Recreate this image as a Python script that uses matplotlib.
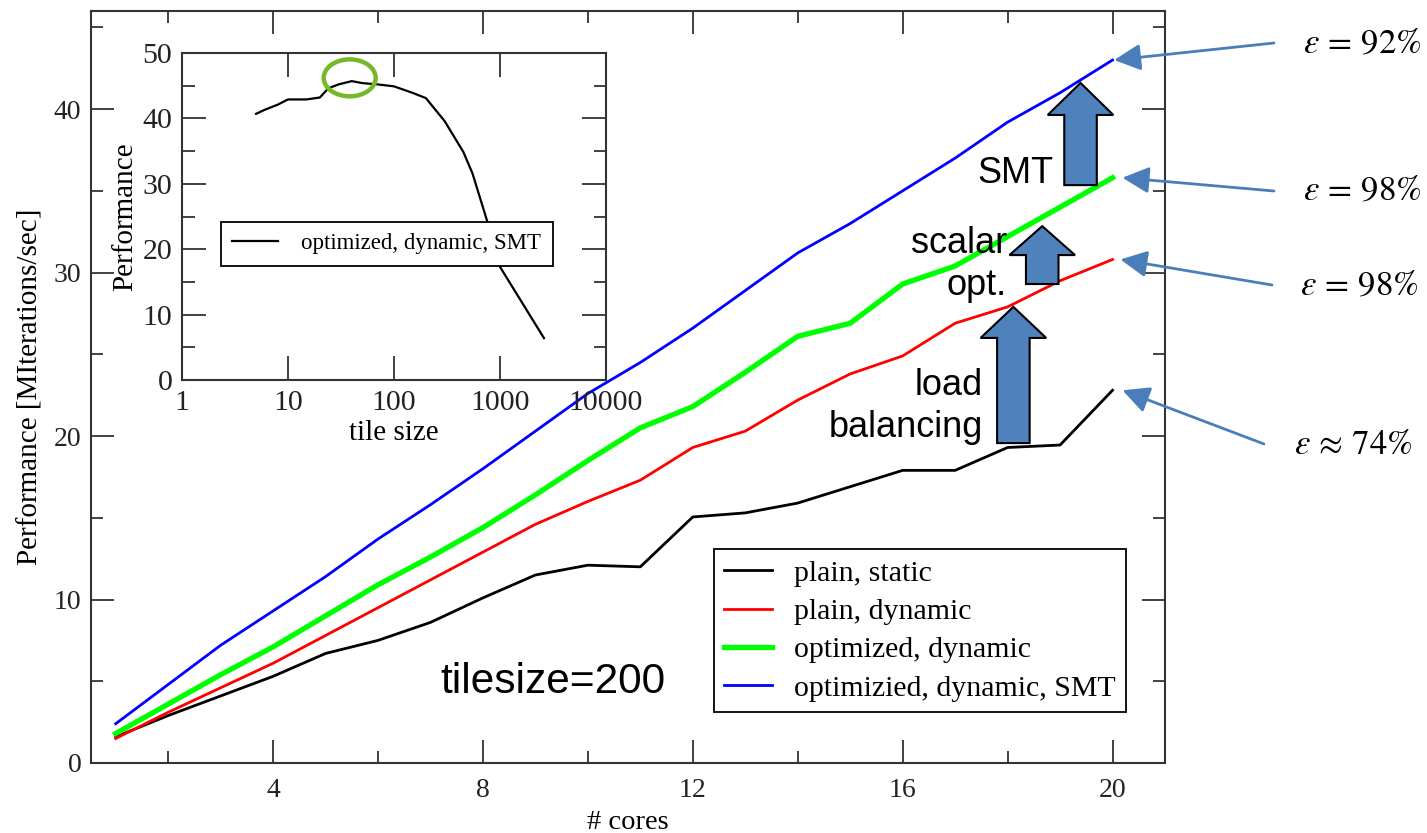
import matplotlib
matplotlib.use("Agg")
import matplotlib.pyplot as plt
from matplotlib.patches import FancyArrow, Ellipse
from matplotlib.ticker import MultipleLocator, LogLocator, NullFormatter

plt.rcParams["font.family"] = ["Liberation Serif", "DejaVu Serif"]
plt.rcParams["mathtext.fontset"] = "stix"

# ── data ─────────────────────────────────────────────────────────────────
cores = list(range(1, 21))
plain_static = [1.6, 2.9, 4.1, 5.3, 6.7, 7.5, 8.6, 10.1, 11.5, 12.1,
                12.0, 15.05, 15.3, 15.9, 16.9, 17.9, 17.9, 19.3, 19.45, 22.8]
plain_dynamic = [1.5, 3.1, 4.6, 6.1, 7.8, 9.5, 11.2, 12.9, 14.6, 16.0,
                 17.3, 19.3, 20.3, 22.2, 23.8, 24.9, 26.9, 27.9, 29.5, 30.8]
opt_dynamic = [1.8, 3.6, 5.4, 7.1, 9.0, 10.9, 12.6, 14.4, 16.4, 18.5,
               20.5, 21.8, 23.9, 26.1, 26.9, 29.3, 30.4, 32.2, 34.0, 35.8]
opt_dynamic_smt = [2.4, 4.8, 7.2, 9.3, 11.4, 13.7, 15.8, 18.0, 20.3, 22.6,
                   24.5, 26.6, 28.9, 31.2, 33.0, 35.0, 37.0, 39.2, 41.0, 43.0]

tile_sizes = [5, 6, 8, 10, 15, 20, 24, 30, 40, 50, 70, 100, 150, 200,
              300, 450, 550, 750, 1000, 2600]
tile_perf = [40.7, 41.3, 42.1, 42.9, 42.9, 43.2, 44.6, 45.2, 45.7, 45.4,
             45.2, 44.9, 43.9, 43.1, 39.6, 34.9, 31.6, 24.5, 17.3, 6.4]

efficiency_labels = [r"$\varepsilon\,=\,92\%$", r"$\varepsilon\,=\,98\%$",
                     r"$\varepsilon\,=\,98\%$", r"$\varepsilon\,\approx\,74\%$"]

W, H = 1427, 833
SPINE = "#333333"
ARROW_BLUE = "#4a7ebb"
BLOCK_BLUE = "#4f81bd"


def fx(px):
    return px / W


def fy(py):
    return 1 - py / H


def style_axes(ax, maj, mino, labelsize):
    for s in ax.spines.values():
        s.set_color(SPINE)
        s.set_linewidth(1.5)
    ax.tick_params(which="both", direction="in", top=True, right=True,
                   color=SPINE, width=1.3, labelcolor="#222222")
    ax.tick_params(which="major", length=maj, labelsize=labelsize)
    ax.tick_params(which="minor", length=mino)


fig = plt.figure(figsize=(W / 100, H / 100), dpi=100)

# ── main axes ────────────────────────────────────────────────────────────
ax = fig.add_axes([fx(91), fy(763), (1165 - 91) / W, (763 - 11) / H])
ax.plot(cores, plain_static, color="black", lw=2.0, label="plain, static")
ax.plot(cores, plain_dynamic, color="#ff0000", lw=2.0, label="plain, dynamic")
ax.plot(cores, opt_dynamic, color="#00ff00", lw=3.8, label="optimized, dynamic")
ax.plot(cores, opt_dynamic_smt, color="#0000ff", lw=2.0,
        label="optimizied, dynamic, SMT")
ax.set_xlim(0.53, 21.0)
ax.set_ylim(0, 46)
ax.xaxis.set_major_locator(MultipleLocator(4))
ax.xaxis.set_minor_locator(MultipleLocator(2))
ax.yaxis.set_major_locator(MultipleLocator(10))
ax.yaxis.set_minor_locator(MultipleLocator(5))
style_axes(ax, 16.5, 8.5, 20)
ax.tick_params(axis="x", pad=11)
ax.tick_params(axis="y", pad=7)
ax.set_xlabel("# cores", fontsize=20.5, labelpad=5)
ax.set_ylabel("Performance [MIterations/sec]", fontsize=21, labelpad=7)

leg = ax.legend(loc="lower right", bbox_to_anchor=(0.9637, 0.0678),
                borderaxespad=0, fontsize=21.5, handlelength=1.6,
                handletextpad=0.74, borderpad=0.35, labelspacing=0.38,
                fancybox=False, framealpha=1, edgecolor="black")
leg.get_frame().set_linewidth(1.3)

# block arrows (x centre, bottom, top, head length) in data units
block_arrows = [(18.11, 19.57, 27.9, 1.9), (18.66, 29.3, 32.84, 1.77),
                (19.39, 35.35, 41.6, 1.96)]
for xc, y0, y1, hl in block_arrows:
    ax.add_patch(FancyArrow(xc, y0, 0, y1 - y0, width=0.62, head_width=1.25,
                            head_length=hl, length_includes_head=True,
                            fc=BLOCK_BLUE, ec="black", lw=1.5, zorder=5))

sans = ["Liberation Sans", "DejaVu Sans"]
fig.text(fx(440), fy(693), "tilesize=200", family=sans, fontsize=30.5,
         va="baseline", ha="left")
fig.text(fx(1054), fy(183), "SMT", family=sans, fontsize=26,
         va="baseline", ha="right")
fig.text(fx(1007), fy(253), "scalar", family=sans, fontsize=26,
         va="baseline", ha="right")
fig.text(fx(1007), fy(295), "opt.", family=sans, fontsize=26,
         va="baseline", ha="right")
fig.text(fx(983), fy(395), "load", family=sans, fontsize=26,
         va="baseline", ha="right")
fig.text(fx(983), fy(437), "balancing", family=sans, fontsize=26,
         va="baseline", ha="right")

# efficiency call-outs
ends = [opt_dynamic_smt[-1], opt_dynamic[-1], plain_dynamic[-1], plain_static[-1]]
tip_dx = [0.03, 0.19, 0.15, 0.19]
tails = [(1274, 43), (1274, 191), (1272, 285), (1264, 444)]
label_pos = [(1303, 45), (1303, 192), (1300, 287), (1294, 446)]
for end, dx, (tx, ty), (lx, ly), lab in zip(ends, tip_dx, tails, label_pos,
                                            efficiency_labels):
    ax.annotate("", xy=(cores[-1] + dx, end), xycoords="data",
                xytext=(fx(tx), fy(ty)), textcoords="figure fraction",
                arrowprops=dict(arrowstyle="-|>,head_length=0.9,head_width=0.45",
                                color=ARROW_BLUE, lw=2, shrinkA=0, shrinkB=0,
                                mutation_scale=18),
                annotation_clip=False)
    fig.text(fx(lx), fy(ly), lab, fontsize=25, va="center", ha="left")

# ── inset ────────────────────────────────────────────────────────────────
axi = fig.add_axes([fx(182), fy(380), (606 - 182) / W, (380 - 53) / H])
axi.plot(tile_sizes, tile_perf, color="black", lw=1.6,
         label="optimized, dynamic, SMT")
axi.set_xscale("log")
axi.set_xlim(1, 10000)
axi.set_ylim(0, 50)
axi.set_xticks([1, 10, 100, 1000, 10000],
               labels=["1", "10", "100", "1000", "10000"])
axi.xaxis.set_minor_locator(LogLocator(base=10, subs=range(2, 10)))
axi.xaxis.set_minor_formatter(NullFormatter())
axi.yaxis.set_major_locator(MultipleLocator(10))
axi.yaxis.set_minor_locator(MultipleLocator(5))
style_axes(axi, 17, 9, 21.5)
axi.tick_params(axis="x", pad=7)
axi.tick_params(axis="y", pad=7)
axi.set_xlabel("tile size", fontsize=21, labelpad=3)
axi.set_ylabel("Performance", fontsize=21, labelpad=3)
ileg = axi.legend(loc="lower left", bbox_to_anchor=(0.092, 0.349),
                  borderaxespad=0, fontsize=16.5, handlelength=2.0,
                  handletextpad=1.0, borderpad=0.5, fancybox=False,
                  framealpha=1, edgecolor="black")
ileg.get_frame().set_linewidth(1.3)

# highlight the peak of the tile-size curve
i_peak = tile_perf.index(max(tile_perf))
cx, cy = axi.transAxes.inverted().transform(
    axi.transData.transform((tile_sizes[i_peak], tile_perf[i_peak])))
axi.add_patch(Ellipse((cx - 0.005, cy + 0.01), 0.1226, 0.113,
                      transform=axi.transAxes, fill=False, ec="#76b82a",
                      lw=3.2, zorder=6, clip_on=False))

fig.savefig("out.png", dpi=100, facecolor="white")
